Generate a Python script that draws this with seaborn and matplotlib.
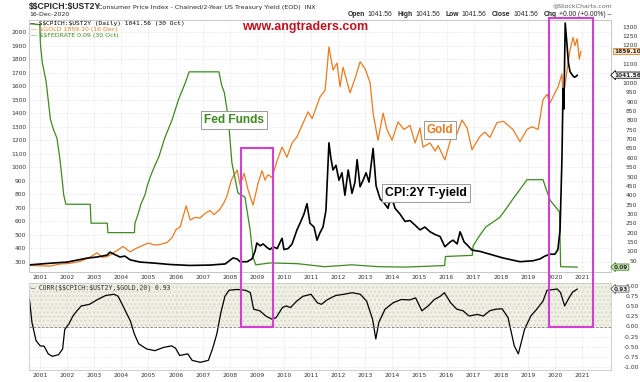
"""CPI:2Y T-yield vs gold vs fed funds, with 20-day correlation panel."""
import matplotlib
matplotlib.use('Agg')
import matplotlib.pyplot as plt
import matplotlib.transforms as mtransforms
from matplotlib.patches import Rectangle
import pandas as pd
import seaborn as sns

# --- data ----------------------------------------------------------------
# Effective fed funds rate (%)
fed_t = [2000.60, 2000.99, 2001.01, 2001.08, 2001.22, 2001.30, 2001.38, 2001.48,
         2001.62, 2001.72, 2001.80, 2001.87, 2001.95, 2002.85, 2002.88, 2003.48,
         2003.50, 2004.48, 2004.50, 2004.62, 2004.72, 2004.87, 2004.96, 2005.08,
         2005.22, 2005.38, 2005.60, 2005.88, 2006.10, 2006.38, 2006.50, 2007.60,
         2007.70, 2007.80, 2007.94, 2008.08, 2008.30, 2008.56, 2008.75, 2008.86,
         2008.96, 2009.50, 2010.50, 2011.50, 2012.50, 2013.50, 2014.50, 2015.93,
         2015.96, 2016.95, 2016.98, 2017.20, 2017.45, 2017.96, 2018.22, 2018.46,
         2018.72, 2018.97, 2019.56, 2019.70, 2019.83, 2020.17, 2020.21, 2020.83]
fed_v = [6.52, 6.50, 6.00, 5.50, 5.00, 4.50, 4.00, 3.75,
         3.50, 3.00, 2.50, 2.00, 1.75, 1.75, 1.25, 1.25,
         1.00, 1.00, 1.25, 1.50, 1.75, 2.00, 2.25, 2.50,
         2.75, 3.00, 3.50, 4.00, 4.50, 5.00, 5.25, 5.25,
         4.90, 4.70, 4.06, 2.84, 2.05, 1.94, 1.07, 0.35,
         0.15, 0.20, 0.18, 0.10, 0.15, 0.10, 0.09, 0.13,
         0.37, 0.40, 0.65, 0.90, 1.15, 1.40, 1.65, 1.90,
         2.15, 2.40, 2.40, 2.10, 1.85, 1.55, 0.10, 0.09]

# $GOLD
gold_t = [2000.60, 2001.00, 2001.37, 2001.74, 2002.10, 2002.48, 2002.73, 2002.92,
          2003.10, 2003.29, 2003.47, 2003.66, 2003.84, 2004.06, 2004.32, 2004.54,
          2004.76, 2004.99, 2005.24, 2005.43, 2005.69, 2005.87, 2006.02, 2006.17,
          2006.39, 2006.54, 2006.72, 2006.90, 2007.09, 2007.27, 2007.42, 2007.64,
          2007.79, 2007.90, 2008.05, 2008.12, 2008.27, 2008.38, 2008.53, 2008.68,
          2008.86, 2009.04, 2009.19, 2009.30, 2009.41, 2009.56, 2009.75, 2009.93,
          2010.11, 2010.30, 2010.48, 2010.70, 2010.89, 2011.04, 2011.15, 2011.33,
          2011.52, 2011.66, 2011.81, 2011.96, 2012.07, 2012.18, 2012.44, 2012.66,
          2012.81, 2012.99, 2013.18, 2013.29, 2013.47, 2013.66, 2013.80, 2013.99,
          2014.21, 2014.43, 2014.65, 2014.84, 2015.02, 2015.13, 2015.39, 2015.58,
          2015.69, 2015.94, 2016.20, 2016.39, 2016.57, 2016.76, 2016.94, 2017.24,
          2017.42, 2017.60, 2017.86, 2018.10, 2018.45, 2018.71, 2018.97, 2019.15,
          2019.38, 2019.56, 2019.71, 2019.82, 2020.00, 2020.11, 2020.26, 2020.30,
          2020.45, 2020.56, 2020.67, 2020.74, 2020.82, 2020.90, 2020.96]
gold_v = [275, 272, 270, 285, 290, 305, 325, 345,
          368, 335, 340, 360, 385, 415, 375, 400,
          420, 440, 425, 430, 445, 480, 540, 560,
          715, 610, 630, 625, 660, 680, 650, 690,
          740, 790, 900, 930, 980, 870, 955, 830,
          720, 880, 975, 905, 945, 925, 1050, 1150,
          1075, 1180, 1225, 1325, 1410, 1360, 1420, 1520,
          1570, 1890, 1720, 1770, 1595, 1740, 1550, 1680,
          1780, 1730, 1625, 1400, 1200, 1400, 1280, 1200,
          1335, 1280, 1310, 1180, 1290, 1150, 1180, 1120,
          1160, 1055, 1240, 1250, 1350, 1290, 1130, 1230,
          1260, 1220, 1330, 1340, 1280, 1190, 1280, 1300,
          1280, 1500, 1540, 1475, 1550, 1590, 1690, 1500,
          1720, 1870, 1960, 1900, 1950, 1800, 1859]

# $$CPICH:$UST2Y ratio
cpi_t = [2000.60, 2001.48, 2002.00, 2002.73, 2003.10, 2003.47, 2003.58, 2003.77,
         2003.95, 2004.13, 2004.32, 2004.69, 2005.17, 2005.80, 2006.53, 2007.27,
         2007.83, 2008.12, 2008.27, 2008.38, 2008.64, 2008.82, 2008.93, 2009.00,
         2009.12, 2009.23, 2009.38, 2009.49, 2009.60, 2009.75, 2009.86, 2009.93,
         2010.00, 2010.15, 2010.30, 2010.48, 2010.59, 2010.74, 2010.85, 2010.96,
         2011.11, 2011.22, 2011.33, 2011.44, 2011.55, 2011.66, 2011.73, 2011.81,
         2011.92, 2012.03, 2012.14, 2012.25, 2012.37, 2012.51, 2012.62, 2012.70,
         2012.81, 2012.92, 2013.03, 2013.14, 2013.29, 2013.40, 2013.55, 2013.69,
         2013.84, 2013.95, 2014.10, 2014.28, 2014.47, 2014.65, 2014.84, 2015.02,
         2015.20, 2015.39, 2015.58, 2015.76, 2015.94, 2016.13, 2016.24, 2016.39,
         2016.50, 2016.65, 2016.76, 2016.94, 2017.24, 2017.60, 2018.08, 2018.71,
         2019.19, 2019.45, 2019.63, 2019.82, 2020.00, 2020.11, 2020.19, 2020.26,
         2020.30, 2020.33, 2020.38, 2020.44, 2020.50, 2020.56, 2020.64, 2020.72,
         2020.78, 2020.83]
cpi_v = [28, 38, 43, 64, 70, 80, 96, 82,
         70, 75, 55, 43, 38, 30, 25, 27,
         33, 65, 60, 45, 45, 60, 100, 145,
         130, 140, 120, 110, 125, 115, 150, 170,
         110, 115, 140, 215, 250, 300, 355, 250,
         230, 160, 200, 230, 320, 680, 600, 535,
         560, 480, 520, 400, 535, 410, 470, 590,
         445, 480, 520, 470, 650, 450, 380, 360,
         330, 400, 330, 300, 260, 265, 240, 215,
         230, 205, 190, 180, 125, 150, 160, 140,
         205, 150, 135, 107, 100, 85, 65, 45,
         50, 60, 75, 85, 85, 110, 215, 600,
         970, 860, 1320, 1215, 1105, 1060, 1042, 1030,
         1035, 1041.56]

# CORR($$CPICH:$UST2Y,$GOLD,20)
corr_t = [2000.60, 2000.70, 2000.85, 2001.00, 2001.15, 2001.30, 2001.45, 2001.68,
          2001.83, 2001.91, 2002.06, 2002.21, 2002.36, 2002.52, 2002.82, 2003.12,
          2003.42, 2003.73, 2003.88, 2004.03, 2004.18, 2004.33, 2004.48, 2004.64,
          2004.94, 2005.24, 2005.55, 2005.85, 2006.00, 2006.15, 2006.45, 2006.61,
          2006.91, 2007.21, 2007.36, 2007.52, 2007.67, 2007.82, 2007.97, 2008.27,
          2008.58, 2008.76, 2008.88, 2009.11, 2009.33, 2009.56, 2009.71, 2009.94,
          2010.09, 2010.24, 2010.47, 2010.70, 2011.00, 2011.23, 2011.38, 2011.61,
          2011.91, 2012.21, 2012.52, 2012.82, 2013.05, 2013.27, 2013.39, 2013.50,
          2013.73, 2014.03, 2014.33, 2014.64, 2014.86, 2015.09, 2015.32, 2015.55,
          2015.77, 2015.92, 2016.15, 2016.38, 2016.61, 2016.83, 2017.14, 2017.36,
          2017.59, 2017.82, 2018.05, 2018.27, 2018.50, 2018.65, 2018.88, 2019.11,
          2019.33, 2019.56, 2019.71, 2020.09, 2020.21, 2020.36, 2020.52, 2020.66,
          2020.76, 2020.83]
corr_v = [0.71, 0.10, -0.35, -0.48, -0.49, -0.68, -0.74, -0.70,
          -0.56, -0.07, 0.06, 0.26, 0.39, 0.51, 0.55, 0.67,
          0.77, 0.80, 0.75, 0.55, 0.34, 0.14, -0.19, -0.43,
          -0.56, -0.60, -0.52, -0.48, -0.54, -0.72, -0.68, -0.84,
          -0.89, -0.84, -0.56, -0.19, 0.34, 0.75, 0.90, 0.92,
          0.90, 0.84, 0.43, 0.39, 0.26, 0.18, 0.22, 0.47,
          0.51, 0.47, 0.63, 0.75, 0.80, 0.59, 0.55, 0.67,
          0.77, 0.80, 0.84, 0.80, 0.63, 0.18, -0.31, 0.10,
          0.43, 0.59, 0.67, 0.66, 0.71, 0.39, 0.51, 0.67,
          0.75, 0.84, 0.59, 0.43, 0.39, 0.26, 0.30, 0.26,
          0.39, 0.43, 0.44, 0.22, -0.48, -0.68, -0.07, 0.26,
          0.43, 0.63, 0.90, 0.93, 0.84, 0.51, 0.71, 0.86,
          0.90, 0.93]

years = list(range(2001, 2022))
gold_ticks = list(range(300, 2001, 100))
cpi_ticks = list(range(50, 1301, 50))
cpi_hidden = [1050, 1150]          # labels sitting under the value tags
corr_ticks = [-1.0, -0.75, -0.5, -0.25, 0.0, 0.25, 0.5, 0.75, 1.0]

# highlighted windows (start, end, scale of top edge, top of box)
boxes = [(2008.42, 2009.60, 'gold', 1143), (2019.80, 2021.42, 'cpi', 1345)]

# --- style -----------------------------------------------------------------
sns.set_style('white')
plt.rcParams['font.family'] = ['DejaVu Sans']
plt.rcParams['text.parse_math'] = False  # "$$CPICH" is literal text

GOLD_C = '#ec7a1e'
FED_C = '#3d8a1f'
MAG_C = '#d23fd2'
GRID_C = '#d9d9d9'
TICK_FS = 4.3
XLIM = (2000.59, 2022.07)

fig = plt.figure(figsize=(6.4, 3.82), dpi=100)
W, H = 640, 382


def px_axes(left, top, right, bottom):
    return fig.add_axes([left / W, 1 - bottom / H, (right - left) / W, (bottom - top) / H])


ax_g = px_axes(29, 20, 611, 272)
ax_f = ax_g.twinx()
ax_c = ax_g.twinx()
ax_k = px_axes(29, 283, 611, 370)

gold_df = pd.DataFrame({'t': gold_t, 'v': gold_v})
fed_df = pd.DataFrame({'t': fed_t, 'v': fed_v})
cpi_df = pd.DataFrame({'t': cpi_t, 'v': cpi_v})
corr_df = pd.DataFrame({'t': corr_t, 'v': corr_v})

sns.lineplot(data=gold_df, x='t', y='v', ax=ax_g, color=GOLD_C, lw=0.9, estimator=None, sort=False)
sns.lineplot(data=fed_df, x='t', y='v', ax=ax_f, color=FED_C, lw=0.9, estimator=None, sort=False)
sns.lineplot(data=cpi_df, x='t', y='v', ax=ax_c, color='black', lw=1.2, estimator=None, sort=False)
sns.lineplot(data=corr_df, x='t', y='v', ax=ax_k, color='black', lw=0.9, estimator=None, sort=False)

for a in (ax_g, ax_f, ax_c, ax_k):
    a.set_xlim(*XLIM)
    a.set_xlabel('')
    a.set_ylabel('')
    for s in a.spines.values():
        s.set_color('#c8c8c8')
        s.set_linewidth(0.6)

ax_g.set_ylim(226, 2089)
ax_c.set_ylim(-10, 1336)
ax_f.set_ylim(-0.04, 6.62)
ax_k.set_ylim(-1.08, 1.08)

# grids on host axes
ax_g.set_xticks(years)
ax_g.set_yticks(gold_ticks)
ax_g.grid(True, color=GRID_C, lw=0.5, ls=(0, (1, 1.5)))
ax_g.tick_params(axis='both', length=0, labelsize=TICK_FS, colors='#333333', pad=2)
ax_g.set_xticklabels([str(y) for y in years])
ax_f.set_yticks([])
ax_c.set_yticks(cpi_ticks)
ax_c.set_yticklabels(['' if v in cpi_hidden else str(v) for v in cpi_ticks])
ax_c.tick_params(axis='y', length=0, labelsize=TICK_FS, colors='#333333', pad=19)
for lab in ax_c.get_yticklabels():
    lab.set_ha('right')

ax_k.set_xticks(years)
ax_k.set_xticklabels([str(y) for y in years])
ax_k.yaxis.tick_right()
ax_k.set_yticks(corr_ticks)
ax_k.set_yticklabels([f'{c:.2f}' for c in corr_ticks])
ax_k.tick_params(axis='both', length=0, labelsize=TICK_FS, colors='#333333', pad=2)
ax_k.tick_params(axis='y', pad=20)
for lab in ax_k.get_yticklabels():
    lab.set_ha('right')
ax_k.grid(True, color=GRID_C, lw=0.5, ls=(0, (1, 1.5)))
ax_k.axhspan(0, 1.08, facecolor='#f1f1e6', edgecolor='#dadccb', hatch='....', lw=0, zorder=0)
ax_k.axhline(0, color='#777777', lw=0.6, ls=(0, (3, 2)))

# --- header text -------------------------------------------------------------
fig.text(29 / W, 1 - 7 / H, '$$CPICH:$UST2Y', fontsize=6.2, fontweight='bold',
         family='Liberation Sans', va='center')
fig.text(98 / W, 1 - 7 / H, 'Consumer Price Index - Chained/2-Year US Treasury Yield (EOD)  INX',
         fontsize=4.6, va='center')
fig.text(29 / W, 1 - 14.5 / H, '16-Dec-2020', fontsize=4.5, va='center')
fig.text(612 / W, 1 - 6 / H, '@StockCharts.com', fontsize=4.5, va='center', ha='right', color='#666666')

# quote line laid out piece by piece so bold labels sit next to their values
hdr = [('Open', True), ('1041.56', False), ('High', True), ('1041.56', False),
       ('Low', True), ('1041.56', False), ('Close', True), ('1041.56', False),
       ('Chg', True), ('+0.00 (+0.00%) \u2013', False)]
renderer = fig.canvas.get_renderer()
x = 348
for s, b in hdr:
    t = fig.text(x / W, 1 - 14.5 / H, s, fontsize=4.85, va='center',
                 fontweight='bold' if b else 'normal', family='Liberation Sans')
    x = t.get_window_extent(renderer).x1 + (2.5 if b else 5.5)

legend = [(23, '\u2014 $$CPICH:$UST2Y (Daily) 1041.56 (30 Oct)', 'black', 'DejaVu Sans Mono'),
          (29, '\u2014 $GOLD 1859.10 (16 Dec)', GOLD_C, 'DejaVu Sans'),
          (35, '\u2014 $$FEDRATE 0.09 (30 Oct)', FED_C, 'DejaVu Sans')]
for y, s, c, fam in legend:
    fig.text(31 / W, 1 - y / H, s, fontsize=4.5, color=c, family=fam, va='center')
fig.text(31 / W, 1 - 288 / H, '\u2014 CORR($$CPICH:$UST2Y,$GOLD,20) 0.93', fontsize=4.7,
         family='DejaVu Sans Mono', color='#333333', va='center')

fig.text(305 / W, 1 - 27 / H, 'www.angtraders.com', fontsize=9, fontweight='bold',
         family='Liberation Sans', color='#c0121f', ha='center', va='center')

# --- labelled boxes in the price panel ----------------------------------------
bx = dict(boxstyle='square,pad=0.25', facecolor='white', edgecolor='#9a9a9a', lw=0.7)
ax_c.text(2008.16, 1350, 'Fed Funds', transform=ax_g.transData, fontsize=8.6, fontweight='bold',
          family='Liberation Sans', color=FED_C, ha='center', va='center', bbox=bx, zorder=6)
ax_c.text(2015.76, 1276, 'Gold', transform=ax_g.transData, fontsize=8.4, fontweight='bold',
          family='Liberation Sans', color=GOLD_C, ha='center', va='center', bbox=bx, zorder=6)
ax_c.text(2015.24, 810, 'CPI:2Y T-yield', transform=ax_g.transData, fontsize=8.8, fontweight='bold',
          family='Liberation Sans', color='black', ha='center', va='center', bbox=bx, zorder=6)


# --- value tags on the right axis ---------------------------------------------
def tag(ax_draw, ax_scale, value, text, fc, ec, style='square,pad=0.12'):
    tr = mtransforms.blended_transform_factory(fig.transFigure, ax_scale.transData)
    ax_draw.text(614 / W, value, text, transform=tr, fontsize=4.2, fontweight='bold', ha='left',
                 va='center', clip_on=False, zorder=10,
                 bbox=dict(boxstyle=style, facecolor=fc, edgecolor=ec, lw=0.6))


tag(ax_c, ax_g, gold_v[-1], '1859.10', '#fde6cc', GOLD_C)
tag(ax_c, ax_c, cpi_v[-1], '1041.56', 'white', 'black', 'larrow,pad=0.1')
tag(ax_c, ax_f, fed_v[-1], '0.09', '#cfe8c0', FED_C, 'larrow,pad=0.1')
tag(ax_k, ax_k, corr_v[-1], '0.93', 'white', '#555555', 'larrow,pad=0.1')

# --- magenta highlight windows spanning both panels ----------------------------
inv = fig.transFigure.inverted()
for t0, t1, scale, top in boxes:
    src = ax_g if scale == 'gold' else ax_c
    x0, y_top = inv.transform(src.transData.transform((t0, top)))
    x1, y_bot = inv.transform(ax_k.transData.transform((t1, 0)))
    fig.patches.append(Rectangle((x0, y_bot), x1 - x0, y_top - y_bot, transform=fig.transFigure,
                                 fill=False, edgecolor=MAG_C, lw=1.5, zorder=20))

fig.savefig('out.png', dpi=100)
